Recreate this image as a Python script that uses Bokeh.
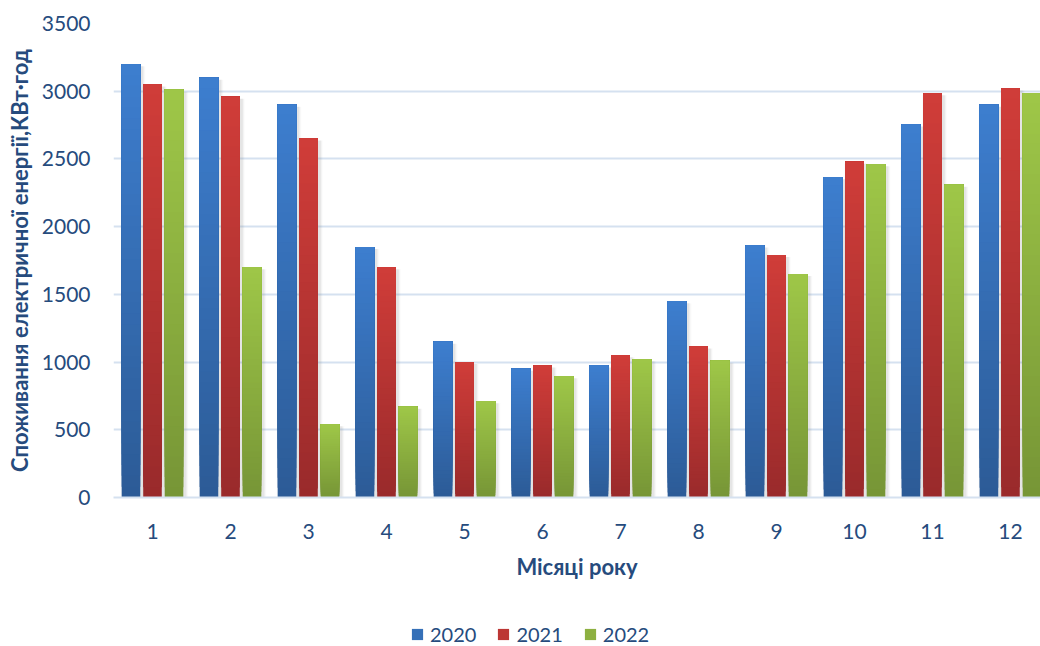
from bokeh.plotting import figure
from bokeh.layouts import column
from bokeh.models import ColumnDataSource, Range1d, FixedTicker, Legend, LegendItem
from bokeh.embed import file_html
from bokeh.resources import INLINE

# Monthly electricity consumption, kWh
months = [1, 2, 3, 4, 5, 6, 7, 8, 9, 10, 11, 12]
years = ["2020", "2021", "2022"]
v2020 = [3200, 3100, 2900, 1850, 1150, 950, 975, 1450, 1860, 2365, 2755, 2900]
v2021 = [3050, 2960, 2650, 1700, 1000, 975, 1050, 1115, 1790, 2480, 2985, 3020]
v2022 = [3010, 1700, 540, 670, 710, 895, 1020, 1010, 1650, 2460, 2310, 2985]
y_ticks = [0, 500, 1000, 1500, 2000, 2500, 3000, 3500]

series = [v2020, v2021, v2022]
# (top colour, bottom colour) of the vertical gradient in each bar
gradients = [("#3D7ECF", "#2C5B96"), ("#D03D39", "#992A2B"), ("#9EC748", "#779536")]
mid_colors = ["#3570B8", "#BC3634", "#8DB041"]
offsets = [-0.276, 0.0, 0.276]
bar_w = 0.238
N_SLICES = 40

TXT = "#264B7D"
FONT = "Lato"

p = figure(width=1040, height=600, output_backend="svg", toolbar_location=None,
           x_range=Range1d(0.5, 12.385), y_range=Range1d(0, 3500),
           min_border_left=113, min_border_right=0, min_border_top=23,
           min_border_bottom=103)
p.outline_line_color = None
p.background_fill_color = "white"
p.border_fill_color = "white"


def hex_rgb(h):
    h = h.lstrip("#")
    return tuple(int(h[i:i + 2], 16) for i in (0, 2, 4))


def mix(c_top, c_bot, t):
    a, b = hex_rgb(c_top), hex_rgb(c_bot)
    return "#%02x%02x%02x" % tuple(round(b[i] + (a[i] - b[i]) * t) for i in range(3))


# soft shadows to the right of every bar
px_x = 1.0 / 78.0
px_y = 3500.0 / 474.0
for vals, off in zip(series, offsets):
    for k, a in enumerate([0.10, 0.06, 0.035]):
        grow = (k + 1) * 2
        p.vbar(x=[m + off + px_x * 2 for m in months], width=bar_w + px_x * grow,
               top=[v - px_y * 2 for v in vals], bottom=0,
               fill_color="#7F7F7F", fill_alpha=a, line_color=None)

# gradient-filled bars: each slice runs from its own start up to the bar top,
# drawn bottom-up so the upper slices cover the lower ones without seams
for vals, off, (ctop, cbot) in zip(series, offsets, gradients):
    xs, bots, tops, cols = [], [], [], []
    for k in range(N_SLICES):
        for m, v in zip(months, vals):
            xs.append(m + off)
            bots.append(v * k / N_SLICES)
            tops.append(v)
            cols.append(mix(ctop, cbot, (k + 0.5) / N_SLICES))
    src = ColumnDataSource(dict(x=xs, bottom=bots, top=tops, color=cols))
    p.vbar(x="x", bottom="bottom", top="top", width=bar_w, fill_color="color",
           line_color=None, source=src)

# grid and axes
p.xgrid.grid_line_color = None
p.ygrid.grid_line_color = "#D5E1F0"
p.ygrid.grid_line_width = 2
p.ygrid.ticker = FixedTicker(ticks=y_ticks)

p.yaxis.ticker = FixedTicker(ticks=y_ticks)
p.xaxis.ticker = FixedTicker(ticks=months)
for ax in (p.xaxis, p.yaxis):
    ax.major_tick_line_color = None
    ax.minor_tick_line_color = None
    ax.major_label_text_font = FONT
    ax.major_label_text_font_size = "21px"
    ax.major_label_text_color = TXT
    ax.axis_label_text_font = FONT
    ax.axis_label_text_font_style = "bold"
    ax.axis_label_text_color = TXT
    ax.axis_label_text_font_size = "22px"
p.yaxis.axis_line_color = None
p.xaxis.axis_line_color = "#D5E1F0"
p.xaxis.axis_line_width = 2
p.yaxis.major_label_standoff = 17
p.xaxis.major_label_standoff = 20
p.yaxis.axis_label = "Споживання електричної енергії,КВт·год"
p.yaxis.axis_label_standoff = 6
p.xaxis.axis_label = "Місяці року"
p.xaxis.axis_label_standoff = 11

# legend strip underneath the chart; its key renderers hold a single
# zero-height bar outside the strip's range, so only the legend shows
lg = figure(width=1040, height=46, output_backend="svg", toolbar_location=None,
            x_range=Range1d(0, 1), y_range=Range1d(0, 1),
            min_border=0, min_border_left=0, min_border_right=0,
            min_border_top=0, min_border_bottom=0)
lg.axis.visible = False
lg.grid.visible = False
lg.outline_line_color = None
lg.border_fill_color = "white"
items = []
for name, c in zip(years, mid_colors):
    r = lg.vbar(x=[-5], top=[-5], bottom=[-5], width=0.01, fill_color=c, line_color=None)
    items.append(LegendItem(label=name, renderers=[r]))
legend = Legend(items=items, orientation="horizontal", location=(297, 0),
                glyph_width=14, glyph_height=14, label_text_font=FONT,
                label_text_font_size="20px", label_text_color=TXT,
                border_line_color=None, background_fill_alpha=0,
                spacing=20, label_standoff=6, margin=0, padding=0)
lg.add_layout(legend)

layout = column(p, lg, spacing=0)
open("out.html", "w").write(file_html(layout, INLINE))
